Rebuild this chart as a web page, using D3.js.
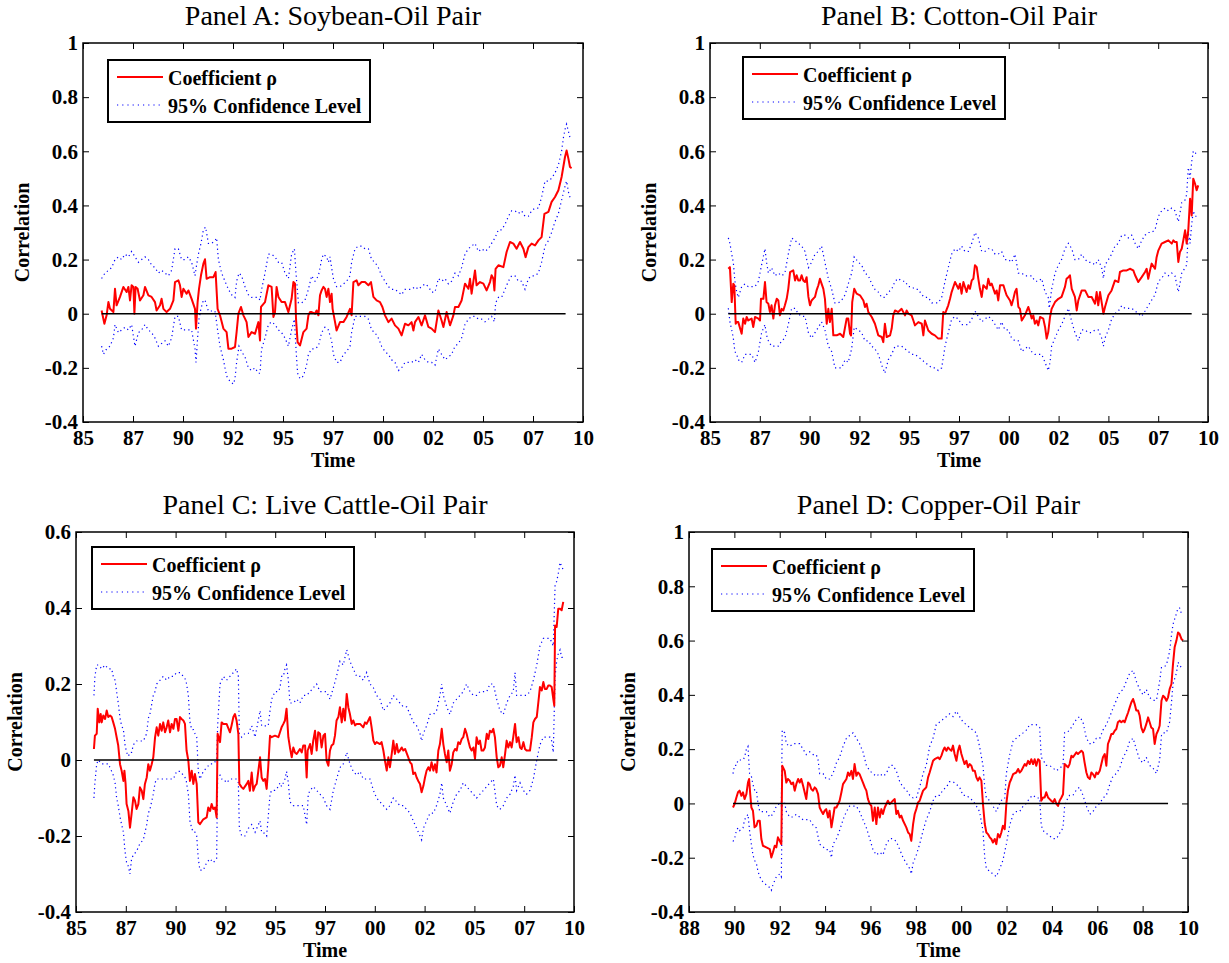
<!DOCTYPE html>
<html>
<head>
<meta charset="utf-8">
<script src="https://cdn.jsdelivr.net/npm/d3@7"></script>
<style>
  body { margin: 0; background: #fff; }
  text { font-family: "Liberation Serif", "Times New Roman", serif; }
</style>
</head>
<body>
<div id="chart"></div>
<script>
// ---- data: [year, value] pairs ----

// Panel A: Soybean-Oil
var aRho = [[1985.93,0.012],[1986.07,-0.037],[1986.18,-0.006],[1986.27,0.043],[1986.35,0.018],[1986.52,0.006],[1986.6,0.092],[1986.68,0.031],[1986.85,0.062],[1987.02,0.099],[1987.18,0.08],[1987.27,0.099],[1987.35,0.049],[1987.43,0.105],[1987.52,0.099],[1987.57,0],[1987.63,0.099],[1987.73,0.092],[1987.85,0.049],[1988.02,0.068],[1988.1,0.099],[1988.27,0.068],[1988.43,0.062],[1988.6,0.043],[1988.68,0.012],[1988.85,0.031],[1988.93,0.055],[1989.02,0.018],[1989.18,0.006],[1989.35,0.018],[1989.52,0.049],[1989.6,0.117],[1989.77,0.123],[1989.85,0.105],[1989.93,0.062],[1990.02,0.092],[1990.18,0.074],[1990.27,0.086],[1990.43,0.055],[1990.6,0.018],[1990.65,-0.055],[1990.73,0.043],[1990.8,0.092],[1990.9,0.142],[1991.02,0.185],[1991.1,0.201],[1991.18,0.129],[1991.35,0.135],[1991.52,0.135],[1991.63,0.154],[1991.73,0.018],[1991.85,-0.006],[1992.02,-0.055],[1992.18,-0.068],[1992.27,-0.129],[1992.43,-0.129],[1992.6,-0.123],[1992.68,-0.068],[1992.77,0],[1992.9,0.025],[1993.02,-0.006],[1993.1,-0.018],[1993.18,-0.031],[1993.27,-0.086],[1993.43,-0.068],[1993.6,-0.074],[1993.77,-0.031],[1993.85,-0.099],[1993.9,0.025],[1994.1,0.043],[1994.27,0.105],[1994.43,0.099],[1994.52,-0.012],[1994.6,0.006],[1994.68,0.099],[1994.77,0.062],[1994.93,0.043],[1995.1,0.043],[1995.27,0.006],[1995.43,0.055],[1995.52,0.117],[1995.6,0.111],[1995.65,-0.018],[1995.73,-0.105],[1995.85,-0.117],[1996.02,-0.068],[1996.18,-0.055],[1996.27,-0.006],[1996.35,0.006],[1996.43,0.006],[1996.6,0],[1996.68,0.012],[1996.77,-0.006],[1996.85,0.068],[1996.93,0.086],[1997.02,0.099],[1997.1,0.092],[1997.18,0.062],[1997.27,0.092],[1997.35,0.043],[1997.43,0.074],[1997.48,0.018],[1997.57,-0.018],[1997.68,-0.062],[1997.85,-0.031],[1998.02,-0.031],[1998.18,-0.012],[1998.35,0.018],[1998.43,-0.006],[1998.52,0.117],[1998.68,0.123],[1998.77,0.105],[1998.93,0.117],[1999.1,0.117],[1999.27,0.105],[1999.4,0.117],[1999.52,0.062],[1999.68,0.049],[1999.85,0.043],[1999.97,0.025],[2000.1,-0.006],[2000.27,-0.031],[2000.43,-0.018],[2000.6,-0.043],[2000.77,-0.055],[2000.93,-0.08],[2001.1,-0.037],[2001.27,-0.043],[2001.43,-0.031],[2001.52,-0.062],[2001.6,-0.031],[2001.77,-0.012],[2001.93,-0.043],[2002.1,-0.006],[2002.27,-0.049],[2002.43,-0.055],[2002.6,-0.068],[2002.77,0.012],[2002.93,-0.025],[2003.02,-0.049],[2003.18,0.006],[2003.35,-0.043],[2003.52,-0.006],[2003.6,0.025],[2003.77,0.025],[2003.93,0.049],[2004.1,0.111],[2004.27,0.092],[2004.35,0.129],[2004.43,0.074],[2004.6,0.16],[2004.68,0.105],[2004.85,0.117],[2005.02,0.111],[2005.18,0.086],[2005.35,0.117],[2005.43,0.142],[2005.52,0.129],[2005.57,0.086],[2005.63,0.166],[2005.77,0.179],[2006.02,0.172],[2006.18,0.228],[2006.35,0.265],[2006.52,0.259],[2006.68,0.24],[2006.85,0.265],[2007.02,0.24],[2007.13,0.209],[2007.27,0.246],[2007.43,0.259],[2007.6,0.252],[2007.77,0.271],[2007.93,0.283],[2008.07,0.369],[2008.27,0.376],[2008.43,0.413],[2008.6,0.431],[2008.77,0.456],[2008.93,0.505],[2009.1,0.579],[2009.18,0.603],[2009.27,0.573],[2009.35,0.542],[2009.43,0.538]];
var aUpper = [[1985.93,0.13],[1986.1,0.15],[1986.27,0.16],[1986.43,0.17],[1986.6,0.2],[1986.77,0.21],[1986.93,0.2],[1987.1,0.22],[1987.27,0.21],[1987.43,0.23],[1987.6,0.21],[1987.77,0.19],[1987.93,0.2],[1988.1,0.21],[1988.27,0.2],[1988.43,0.18],[1988.6,0.17],[1988.77,0.15],[1988.93,0.16],[1989.1,0.15],[1989.27,0.14],[1989.43,0.16],[1989.6,0.24],[1989.77,0.24],[1989.93,0.2],[1990.1,0.2],[1990.27,0.21],[1990.43,0.19],[1990.6,0.14],[1990.68,0.18],[1990.77,0.22],[1990.9,0.26],[1991.02,0.31],[1991.13,0.32],[1991.27,0.26],[1991.43,0.26],[1991.6,0.27],[1991.68,0.28],[1991.77,0.2],[1991.93,0.15],[1992.1,0.12],[1992.27,0.09],[1992.43,0.07],[1992.6,0.06],[1992.68,0.12],[1992.8,0.15],[1992.93,0.14],[1993.1,0.1],[1993.27,0.07],[1993.43,0.06],[1993.6,0.06],[1993.77,0.06],[1993.85,0.05],[1993.93,0.09],[1994.1,0.15],[1994.27,0.22],[1994.43,0.22],[1994.6,0.21],[1994.77,0.19],[1994.93,0.19],[1995.1,0.15],[1995.27,0.13],[1995.43,0.22],[1995.57,0.24],[1995.65,0.15],[1995.77,0.04],[1995.93,0.04],[1996.1,0.05],[1996.27,0.09],[1996.43,0.14],[1996.6,0.12],[1996.77,0.14],[1996.93,0.2],[1997.02,0.22],[1997.18,0.21],[1997.27,0.19],[1997.35,0.21],[1997.43,0.17],[1997.52,0.13],[1997.68,0.1],[1997.85,0.1],[1998.02,0.11],[1998.18,0.12],[1998.35,0.14],[1998.43,0.19],[1998.6,0.24],[1998.77,0.25],[1998.93,0.25],[1999.1,0.24],[1999.27,0.24],[1999.43,0.2],[1999.6,0.19],[1999.77,0.17],[1999.93,0.14],[2000.1,0.12],[2000.27,0.1],[2000.43,0.09],[2000.6,0.09],[2000.77,0.08],[2000.93,0.07],[2001.1,0.09],[2001.27,0.09],[2001.43,0.09],[2001.6,0.1],[2001.77,0.09],[2001.93,0.1],[2002.1,0.11],[2002.27,0.1],[2002.43,0.08],[2002.6,0.08],[2002.77,0.13],[2002.93,0.12],[2003.1,0.13],[2003.27,0.11],[2003.43,0.12],[2003.6,0.15],[2003.77,0.14],[2003.93,0.17],[2004.1,0.22],[2004.27,0.24],[2004.43,0.25],[2004.6,0.26],[2004.77,0.23],[2004.93,0.24],[2005.1,0.23],[2005.27,0.24],[2005.43,0.26],[2005.6,0.28],[2005.77,0.31],[2005.93,0.31],[2006.1,0.33],[2006.27,0.36],[2006.43,0.38],[2006.6,0.38],[2006.77,0.37],[2006.93,0.38],[2007.1,0.36],[2007.27,0.36],[2007.43,0.38],[2007.6,0.39],[2007.77,0.39],[2007.93,0.43],[2008.1,0.49],[2008.27,0.49],[2008.43,0.5],[2008.6,0.52],[2008.77,0.55],[2008.93,0.6],[2009.02,0.65],[2009.1,0.68],[2009.18,0.7],[2009.35,0.65]];
var aLower = [[1985.93,-0.12],[1986.02,-0.15],[1986.18,-0.13],[1986.35,-0.12],[1986.52,-0.09],[1986.6,-0.04],[1986.77,-0.07],[1986.93,-0.06],[1987.1,-0.05],[1987.27,-0.06],[1987.43,-0.04],[1987.6,-0.12],[1987.77,-0.07],[1987.93,-0.06],[1988.1,-0.04],[1988.27,-0.06],[1988.43,-0.07],[1988.6,-0.09],[1988.77,-0.12],[1988.93,-0.11],[1989.1,-0.1],[1989.27,-0.12],[1989.43,-0.09],[1989.6,-0.01],[1989.77,-0.01],[1989.93,-0.06],[1990.1,-0.06],[1990.27,-0.06],[1990.43,-0.06],[1990.6,-0.13],[1990.65,-0.18],[1990.73,-0.09],[1990.8,-0.02],[1990.9,0.02],[1991.02,0.05],[1991.1,0.05],[1991.27,0.01],[1991.43,0.01],[1991.6,0.01],[1991.73,-0.06],[1991.85,-0.12],[1992.02,-0.17],[1992.18,-0.23],[1992.35,-0.25],[1992.52,-0.26],[1992.6,-0.24],[1992.68,-0.18],[1992.8,-0.12],[1992.93,-0.14],[1993.1,-0.16],[1993.27,-0.2],[1993.43,-0.21],[1993.6,-0.2],[1993.77,-0.22],[1993.85,-0.22],[1993.93,-0.13],[1994.1,-0.09],[1994.27,-0.04],[1994.43,-0.03],[1994.6,-0.04],[1994.77,-0.06],[1994.93,-0.07],[1995.1,-0.09],[1995.27,-0.12],[1995.43,-0.06],[1995.57,-0.02],[1995.65,-0.13],[1995.73,-0.22],[1995.85,-0.24],[1996.02,-0.23],[1996.18,-0.19],[1996.27,-0.15],[1996.43,-0.13],[1996.6,-0.13],[1996.77,-0.12],[1996.93,-0.07],[1997.1,-0.05],[1997.27,-0.06],[1997.35,-0.08],[1997.43,-0.1],[1997.52,-0.15],[1997.68,-0.18],[1997.85,-0.18],[1998.02,-0.15],[1998.18,-0.14],[1998.35,-0.12],[1998.43,-0.07],[1998.6,-0.01],[1998.77,-0.01],[1998.93,-0.01],[1999.1,-0.01],[1999.27,-0.02],[1999.43,-0.06],[1999.6,-0.07],[1999.77,-0.09],[1999.93,-0.12],[2000.1,-0.14],[2000.27,-0.15],[2000.43,-0.17],[2000.6,-0.18],[2000.77,-0.21],[2000.93,-0.2],[2001.1,-0.18],[2001.27,-0.18],[2001.43,-0.18],[2001.6,-0.17],[2001.77,-0.18],[2001.93,-0.15],[2002.1,-0.17],[2002.27,-0.18],[2002.43,-0.18],[2002.6,-0.19],[2002.77,-0.13],[2002.93,-0.15],[2003.1,-0.17],[2003.27,-0.16],[2003.43,-0.15],[2003.6,-0.12],[2003.77,-0.11],[2003.93,-0.09],[2004.1,-0.04],[2004.27,-0.02],[2004.43,-0.01],[2004.6,-0.01],[2004.77,-0.02],[2004.93,-0.02],[2005.1,-0.03],[2005.27,-0.02],[2005.43,-0.01],[2005.57,-0.03],[2005.63,0.04],[2005.77,0.06],[2005.93,0.06],[2006.1,0.09],[2006.27,0.12],[2006.43,0.14],[2006.6,0.14],[2006.77,0.12],[2006.93,0.12],[2007.1,0.09],[2007.27,0.13],[2007.43,0.14],[2007.6,0.14],[2007.77,0.15],[2007.93,0.19],[2008.1,0.25],[2008.27,0.27],[2008.43,0.3],[2008.6,0.34],[2008.77,0.37],[2008.93,0.42],[2009.1,0.47],[2009.18,0.49],[2009.27,0.45],[2009.35,0.43]];
var aZero = [1985.93, 2009.13];

// Panel B: Cotton-Oil
var bRho = [[1985.92,0.166],[1986,0.172],[1986.09,0.043],[1986.17,0.111],[1986.22,0.105],[1986.29,-0.037],[1986.34,-0.031],[1986.42,-0.031],[1986.59,-0.074],[1986.67,-0.018],[1986.76,-0.037],[1986.84,-0.012],[1986.92,-0.025],[1987.09,-0.018],[1987.17,-0.049],[1987.26,-0.012],[1987.43,-0.018],[1987.51,-0.025],[1987.56,0.055],[1987.68,0.055],[1987.76,0.117],[1987.84,0.043],[1987.93,0.037],[1988.01,0.006],[1988.09,0.031],[1988.18,-0.018],[1988.26,0.031],[1988.35,0.055],[1988.43,0.049],[1988.51,-0.006],[1988.6,0.018],[1988.68,0.012],[1988.76,0.031],[1988.85,0.055],[1988.93,0.092],[1989.02,0.154],[1989.18,0.16],[1989.27,0.123],[1989.35,0.142],[1989.43,0.123],[1989.52,0.123],[1989.6,0.142],[1989.68,0.123],[1989.77,0.117],[1989.85,0.135],[1989.94,0.062],[1990.02,0.031],[1990.1,0.049],[1990.27,0.062],[1990.35,0.086],[1990.44,0.105],[1990.52,0.129],[1990.6,0.111],[1990.69,0.092],[1990.77,0.055],[1990.86,-0.037],[1990.94,0.018],[1991.02,-0.031],[1991.11,0.018],[1991.19,-0.08],[1991.36,-0.08],[1991.53,-0.074],[1991.69,-0.086],[1991.86,-0.018],[1991.94,-0.018],[1992.03,-0.074],[1992.08,-0.08],[1992.14,0.043],[1992.24,0.092],[1992.36,0.074],[1992.53,0.068],[1992.7,0.049],[1992.78,0.025],[1992.86,0.037],[1992.95,0.006],[1993.12,-0.012],[1993.28,-0.037],[1993.45,-0.08],[1993.62,-0.086],[1993.7,-0.105],[1993.78,-0.037],[1993.87,-0.086],[1994.04,-0.08],[1994.12,-0.055],[1994.2,-0.006],[1994.29,0.012],[1994.45,0.006],[1994.62,0.018],[1994.79,-0.006],[1994.87,0.012],[1994.96,0],[1995.12,-0.006],[1995.21,-0.025],[1995.29,-0.043],[1995.46,-0.031],[1995.63,-0.037],[1995.71,-0.08],[1995.79,-0.025],[1995.96,-0.062],[1996.13,-0.074],[1996.29,-0.08],[1996.46,-0.092],[1996.63,-0.092],[1996.71,0.006],[1996.8,0],[1996.96,0.031],[1997.05,0.055],[1997.13,0.08],[1997.3,0.117],[1997.47,0.092],[1997.55,0.111],[1997.63,0.074],[1997.72,0.117],[1997.88,0.08],[1997.97,0.105],[1998.05,0.092],[1998.14,0.123],[1998.22,0.129],[1998.3,0.179],[1998.39,0.172],[1998.47,0.129],[1998.55,0.092],[1998.64,0.062],[1998.72,0.105],[1998.89,0.092],[1998.97,0.129],[1999.06,0.105],[1999.14,0.111],[1999.31,0.074],[1999.39,0.086],[1999.47,0.049],[1999.56,0.105],[1999.73,0.105],[1999.81,0.086],[1999.89,0.068],[2000.06,0.049],[2000.14,0.031],[2000.23,0.055],[2000.31,0.08],[2000.39,0.092],[2000.48,0.025],[2000.56,0.018],[2000.65,-0.025],[2000.81,-0.006],[2000.98,0.025],[2001.06,0.006],[2001.15,-0.018],[2001.23,-0.006],[2001.31,-0.037],[2001.4,-0.025],[2001.48,-0.043],[2001.57,-0.012],[2001.73,-0.018],[2001.82,-0.049],[2001.9,-0.092],[2001.98,-0.068],[2002.07,-0.012],[2002.15,0.018],[2002.32,0.043],[2002.49,0.055],[2002.65,0.062],[2002.82,0.099],[2002.9,0.129],[2002.99,0.135],[2003.07,0.142],[2003.16,0.092],[2003.32,0.062],[2003.41,0.012],[2003.49,0.049],[2003.66,0.086],[2003.83,0.086],[2003.99,0.062],[2004.16,0.062],[2004.33,0.037],[2004.41,0.08],[2004.49,0.031],[2004.58,0.08],[2004.66,0.043],[2004.75,0],[2004.83,0.025],[2005,0.068],[2005.16,0.086],[2005.33,0.123],[2005.5,0.117],[2005.58,0.154],[2005.75,0.16],[2005.92,0.16],[2006.08,0.166],[2006.25,0.16],[2006.34,0.142],[2006.5,0.117],[2006.67,0.135],[2006.84,0.154],[2006.92,0.166],[2007,0.129],[2007.09,0.16],[2007.17,0.185],[2007.34,0.166],[2007.42,0.209],[2007.51,0.234],[2007.67,0.259],[2007.84,0.265],[2008.01,0.271],[2008.18,0.259],[2008.26,0.271],[2008.34,0.265],[2008.43,0.265],[2008.51,0.191],[2008.59,0.228],[2008.68,0.24],[2008.76,0.271],[2008.85,0.308],[2008.93,0.259],[2009.01,0.308],[2009.1,0.425],[2009.18,0.363],[2009.26,0.499],[2009.35,0.48],[2009.43,0.456],[2009.51,0.474]];
var bUpper = [[1985.92,0.28],[1986,0.26],[1986.09,0.22],[1986.17,0.19],[1986.25,0.12],[1986.34,0.08],[1986.42,0.06],[1986.59,0.1],[1986.76,0.11],[1986.92,0.1],[1987.09,0.1],[1987.26,0.1],[1987.43,0.12],[1987.59,0.18],[1987.76,0.24],[1987.84,0.19],[1987.93,0.15],[1988.09,0.17],[1988.26,0.14],[1988.43,0.15],[1988.6,0.14],[1988.76,0.15],[1988.93,0.22],[1989.1,0.28],[1989.27,0.27],[1989.43,0.26],[1989.6,0.25],[1989.77,0.23],[1989.94,0.17],[1990.1,0.19],[1990.27,0.22],[1990.44,0.23],[1990.6,0.25],[1990.77,0.19],[1990.94,0.13],[1991.11,0.09],[1991.27,0.04],[1991.44,0.04],[1991.61,0.05],[1991.78,0.07],[1991.94,0.11],[1992.11,0.15],[1992.24,0.21],[1992.45,0.19],[1992.61,0.18],[1992.78,0.15],[1992.95,0.14],[1993.12,0.11],[1993.28,0.09],[1993.45,0.08],[1993.62,0.06],[1993.78,0.06],[1993.95,0.08],[1994.12,0.09],[1994.29,0.12],[1994.45,0.13],[1994.62,0.12],[1994.79,0.12],[1994.96,0.1],[1995.12,0.1],[1995.29,0.09],[1995.46,0.09],[1995.63,0.07],[1995.79,0.06],[1995.96,0.06],[1996.13,0.04],[1996.29,0.04],[1996.46,0.04],[1996.63,0.06],[1996.8,0.12],[1996.96,0.17],[1997.13,0.22],[1997.3,0.24],[1997.47,0.23],[1997.63,0.25],[1997.8,0.23],[1997.97,0.23],[1998.14,0.26],[1998.3,0.3],[1998.47,0.28],[1998.64,0.23],[1998.8,0.23],[1998.97,0.24],[1999.14,0.24],[1999.31,0.22],[1999.47,0.22],[1999.64,0.23],[1999.81,0.2],[1999.98,0.2],[2000.14,0.19],[2000.31,0.22],[2000.48,0.15],[2000.65,0.15],[2000.81,0.14],[2000.98,0.14],[2001.15,0.14],[2001.31,0.12],[2001.48,0.12],[2001.65,0.13],[2001.82,0.08],[2001.98,0.06],[2002.03,0.02],[2002.15,0.09],[2002.32,0.15],[2002.49,0.18],[2002.65,0.2],[2002.82,0.24],[2002.99,0.26],[2003.16,0.24],[2003.32,0.2],[2003.49,0.2],[2003.66,0.22],[2003.83,0.2],[2003.99,0.19],[2004.16,0.19],[2004.33,0.18],[2004.49,0.2],[2004.66,0.17],[2004.75,0.13],[2004.83,0.18],[2005,0.2],[2005.16,0.22],[2005.33,0.25],[2005.5,0.26],[2005.67,0.29],[2005.83,0.29],[2006,0.28],[2006.17,0.29],[2006.34,0.26],[2006.5,0.24],[2006.67,0.27],[2006.84,0.29],[2007,0.3],[2007.17,0.3],[2007.34,0.31],[2007.51,0.36],[2007.67,0.38],[2007.84,0.39],[2008.01,0.38],[2008.18,0.39],[2008.34,0.38],[2008.51,0.34],[2008.59,0.37],[2008.68,0.41],[2008.85,0.42],[2008.93,0.44],[2009.01,0.54],[2009.1,0.5],[2009.18,0.56],[2009.26,0.6],[2009.35,0.6],[2009.43,0.58]];
var bLower = [[1985.92,0.02],[1986,-0.03],[1986.09,-0.06],[1986.17,-0.09],[1986.25,-0.14],[1986.34,-0.15],[1986.42,-0.17],[1986.59,-0.18],[1986.76,-0.15],[1986.92,-0.15],[1987.09,-0.15],[1987.26,-0.18],[1987.43,-0.14],[1987.59,-0.07],[1987.76,-0.04],[1987.84,-0.08],[1987.93,-0.1],[1988.09,-0.12],[1988.26,-0.12],[1988.43,-0.12],[1988.6,-0.1],[1988.76,-0.09],[1988.93,-0.04],[1989.1,0.02],[1989.27,0.02],[1989.43,0],[1989.6,-0.01],[1989.77,-0.01],[1989.94,-0.07],[1990.1,-0.09],[1990.27,-0.07],[1990.44,-0.05],[1990.6,-0.03],[1990.77,-0.06],[1990.94,-0.12],[1991.11,-0.14],[1991.27,-0.2],[1991.44,-0.2],[1991.61,-0.2],[1991.78,-0.17],[1991.94,-0.18],[1992.11,-0.13],[1992.24,-0.05],[1992.45,-0.06],[1992.61,-0.07],[1992.78,-0.1],[1992.95,-0.1],[1993.12,-0.12],[1993.28,-0.13],[1993.45,-0.15],[1993.62,-0.19],[1993.78,-0.22],[1993.95,-0.17],[1994.12,-0.15],[1994.29,-0.12],[1994.45,-0.12],[1994.62,-0.12],[1994.79,-0.13],[1994.96,-0.14],[1995.12,-0.15],[1995.29,-0.15],[1995.46,-0.16],[1995.63,-0.17],[1995.79,-0.18],[1995.96,-0.19],[1996.13,-0.2],[1996.29,-0.2],[1996.46,-0.21],[1996.63,-0.2],[1996.8,-0.12],[1996.96,-0.07],[1997.13,-0.02],[1997.3,-0.01],[1997.47,-0.02],[1997.63,-0.04],[1997.8,-0.04],[1997.97,-0.04],[1998.14,-0.02],[1998.3,0.01],[1998.47,-0.01],[1998.64,-0.03],[1998.8,-0.02],[1998.97,-0.01],[1999.14,-0.02],[1999.31,-0.04],[1999.47,-0.06],[1999.64,-0.03],[1999.81,-0.06],[1999.98,-0.06],[2000.14,-0.09],[2000.31,-0.1],[2000.48,-0.1],[2000.65,-0.14],[2000.81,-0.13],[2000.98,-0.12],[2001.15,-0.14],[2001.31,-0.15],[2001.48,-0.15],[2001.65,-0.15],[2001.82,-0.18],[2001.98,-0.21],[2002.07,-0.18],[2002.15,-0.12],[2002.32,-0.09],[2002.49,-0.06],[2002.65,-0.04],[2002.82,-0.01],[2002.99,0.02],[2003.16,-0.03],[2003.32,-0.07],[2003.49,-0.1],[2003.66,-0.06],[2003.83,-0.06],[2003.99,-0.07],[2004.16,-0.07],[2004.33,-0.06],[2004.49,-0.06],[2004.66,-0.09],[2004.75,-0.12],[2004.83,-0.09],[2005,-0.06],[2005.16,-0.02],[2005.33,0],[2005.5,0.01],[2005.67,0.03],[2005.83,0.02],[2006,0.02],[2006.17,0.02],[2006.34,0.01],[2006.5,0],[2006.67,-0.01],[2006.84,0.01],[2007,0.03],[2007.17,0.05],[2007.34,0.07],[2007.51,0.12],[2007.67,0.13],[2007.84,0.15],[2008.01,0.14],[2008.18,0.15],[2008.34,0.14],[2008.51,0.08],[2008.59,0.11],[2008.68,0.15],[2008.85,0.17],[2008.93,0.18],[2009.01,0.3],[2009.1,0.26],[2009.18,0.33],[2009.26,0.38],[2009.35,0.36],[2009.43,0.36]];
var bZero = [1985.92, 2009.18];

// Panel C: Live Cattle-Oil
var cRho = [[1985.9,0.029],[1985.95,0.064],[1986.04,0.069],[1986.09,0.135],[1986.17,0.099],[1986.24,0.121],[1986.29,0.099],[1986.37,0.117],[1986.46,0.108],[1986.54,0.13],[1986.62,0.113],[1986.71,0.117],[1986.79,0.113],[1986.87,0.099],[1986.96,0.082],[1987.04,0.06],[1987.12,0.038],[1987.21,-0.011],[1987.29,-0.028],[1987.38,-0.055],[1987.43,-0.028],[1987.49,-0.063],[1987.54,-0.116],[1987.63,-0.134],[1987.71,-0.178],[1987.79,-0.142],[1987.88,-0.098],[1987.96,-0.107],[1988.04,-0.129],[1988.13,-0.116],[1988.21,-0.072],[1988.3,-0.081],[1988.38,-0.103],[1988.46,-0.063],[1988.55,-0.046],[1988.63,-0.011],[1988.71,-0.028],[1988.8,-0.011],[1988.88,0.007],[1988.97,0.06],[1989.05,0.086],[1989.13,0.064],[1989.22,0.095],[1989.3,0.077],[1989.38,0.099],[1989.47,0.073],[1989.55,0.086],[1989.63,0.104],[1989.72,0.073],[1989.8,0.095],[1989.89,0.082],[1989.97,0.108],[1990.05,0.108],[1990.14,0.077],[1990.22,0.113],[1990.3,0.108],[1990.39,0.104],[1990.47,0.095],[1990.55,0.025],[1990.64,-0.002],[1990.72,-0.055],[1990.81,-0.028],[1990.89,-0.063],[1990.97,-0.037],[1991.06,-0.063],[1991.14,-0.164],[1991.22,-0.169],[1991.39,-0.156],[1991.56,-0.151],[1991.64,-0.125],[1991.73,-0.134],[1991.81,-0.116],[1991.89,-0.129],[1991.98,-0.125],[1992.06,-0.151],[1992.11,0.069],[1992.23,0.047],[1992.31,0.099],[1992.4,0.095],[1992.56,0.095],[1992.73,0.073],[1992.81,0.091],[1992.9,0.113],[1992.98,0.121],[1993.06,0.104],[1993.15,0.069],[1993.2,-0.063],[1993.32,-0.072],[1993.4,-0.076],[1993.57,-0.063],[1993.65,-0.055],[1993.73,-0.081],[1993.82,-0.033],[1993.9,-0.081],[1993.99,-0.068],[1994.07,-0.063],[1994.24,0.007],[1994.32,-0.046],[1994.4,-0.055],[1994.49,-0.05],[1994.57,-0.076],[1994.65,-0.019],[1994.74,0.064],[1994.82,0.06],[1994.99,0.064],[1995.16,0.06],[1995.24,0.073],[1995.32,0.086],[1995.41,0.095],[1995.49,0.104],[1995.57,0.135],[1995.66,0.06],[1995.74,0.033],[1995.83,0.007],[1995.91,0.033],[1995.99,0.02],[1996.08,0.016],[1996.24,0.029],[1996.33,0.02],[1996.41,0.038],[1996.5,0.038],[1996.58,-0.046],[1996.63,0.025],[1996.75,0.042],[1996.83,0.016],[1996.91,0.051],[1997,0.077],[1997.08,0.025],[1997.16,0.073],[1997.25,0.069],[1997.33,0.033],[1997.42,0.064],[1997.5,0.069],[1997.58,-0.002],[1997.67,-0.015],[1997.75,0.025],[1997.83,0.038],[1997.92,0.042],[1998,0.064],[1998.08,0.104],[1998.17,0.113],[1998.25,0.139],[1998.34,0.099],[1998.42,0.135],[1998.5,0.104],[1998.59,0.174],[1998.67,0.139],[1998.75,0.121],[1998.84,0.095],[1998.92,0.104],[1999.01,0.091],[1999.09,0.095],[1999.26,0.095],[1999.42,0.086],[1999.51,0.099],[1999.59,0.095],[1999.76,0.113],[1999.84,0.086],[1999.93,0.051],[2000.01,0.042],[2000.09,0.047],[2000.26,0.042],[2000.34,0.047],[2000.43,0.025],[2000.51,-0.002],[2000.6,-0.028],[2000.68,0.007],[2000.76,-0.019],[2000.85,0.016],[2000.93,0.051],[2001.01,0.016],[2001.1,0.042],[2001.18,0.02],[2001.26,0.025],[2001.35,0.033],[2001.43,0.025],[2001.52,0.029],[2001.68,0.007],[2001.77,-0.006],[2001.85,-0.011],[2001.93,-0.037],[2002.02,-0.033],[2002.1,-0.046],[2002.18,-0.055],[2002.27,-0.063],[2002.35,-0.085],[2002.44,-0.068],[2002.52,-0.046],[2002.6,-0.028],[2002.69,-0.019],[2002.77,-0.028],[2002.85,-0.006],[2002.94,-0.028],[2003.02,-0.011],[2003.1,-0.033],[2003.19,0.025],[2003.27,0.042],[2003.36,0.082],[2003.44,0.042],[2003.52,0.016],[2003.61,-0.006],[2003.69,0.025],[2003.77,-0.028],[2003.86,-0.011],[2003.94,0.02],[2004.03,0.029],[2004.11,0.025],[2004.19,0.047],[2004.28,0.042],[2004.36,0.055],[2004.44,0.06],[2004.53,0.082],[2004.61,0.069],[2004.69,0.051],[2004.78,0.033],[2004.86,0.025],[2004.95,0.033],[2005.03,0.003],[2005.11,0.06],[2005.2,0.042],[2005.28,0.051],[2005.36,0.025],[2005.45,0.025],[2005.53,0.033],[2005.62,0.069],[2005.7,0.055],[2005.78,0.077],[2005.87,0.073],[2005.95,0.082],[2006.03,0.06],[2006.12,0.007],[2006.2,-0.019],[2006.28,-0.015],[2006.37,0.007],[2006.45,-0.019],[2006.54,0.016],[2006.62,0.051],[2006.7,0.033],[2006.79,0.047],[2006.87,0.033],[2006.95,0.06],[2007.04,0.095],[2007.12,0.047],[2007.21,0.06],[2007.29,0.033],[2007.37,0.029],[2007.46,0.047],[2007.54,0.029],[2007.62,0.025],[2007.79,0.025],[2007.88,0.06],[2007.96,0.099],[2008.04,0.108],[2008.13,0.113],[2008.21,0.152],[2008.29,0.192],[2008.38,0.183],[2008.46,0.205],[2008.54,0.187],[2008.63,0.187],[2008.71,0.196],[2008.79,0.196],[2008.88,0.192],[2008.96,0.161],[2009.01,0.143],[2009.05,0.354],[2009.13,0.35],[2009.21,0.398],[2009.3,0.398],[2009.38,0.394],[2009.46,0.416]];
var cUpper = [[1985.9,0.17],[1985.95,0.22],[1986.04,0.25],[1986.12,0.25],[1986.29,0.24],[1986.46,0.25],[1986.62,0.24],[1986.79,0.24],[1986.87,0.22],[1986.96,0.21],[1987.04,0.18],[1987.12,0.15],[1987.21,0.11],[1987.29,0.09],[1987.38,0.08],[1987.46,0.04],[1987.54,0.02],[1987.63,0.01],[1987.71,0.02],[1987.79,0.02],[1987.88,0.04],[1988.04,0.05],[1988.21,0.05],[1988.38,0.05],[1988.55,0.07],[1988.63,0.11],[1988.71,0.12],[1988.88,0.17],[1988.97,0.18],[1989.05,0.2],[1989.22,0.21],[1989.38,0.22],[1989.55,0.21],[1989.72,0.22],[1989.89,0.22],[1990.05,0.23],[1990.22,0.23],[1990.39,0.22],[1990.52,0.21],[1990.64,0.17],[1990.72,0.1],[1990.81,0.08],[1990.89,0.08],[1990.97,0.07],[1991.06,0.06],[1991.14,-0.03],[1991.22,-0.05],[1991.39,-0.03],[1991.56,-0.02],[1991.73,-0.01],[1991.89,-0.01],[1992.06,0],[1992.11,0.09],[1992.23,0.2],[1992.31,0.21],[1992.4,0.22],[1992.56,0.21],[1992.73,0.22],[1992.9,0.23],[1993.06,0.24],[1993.15,0.22],[1993.2,0.07],[1993.32,0.06],[1993.48,0.07],[1993.65,0.07],[1993.82,0.09],[1993.99,0.06],[1994.24,0.13],[1994.32,0.09],[1994.4,0.09],[1994.57,0.09],[1994.65,0.09],[1994.74,0.13],[1994.82,0.16],[1994.99,0.18],[1995.16,0.18],[1995.24,0.19],[1995.32,0.22],[1995.41,0.22],[1995.49,0.24],[1995.57,0.25],[1995.66,0.21],[1995.74,0.15],[1995.91,0.15],[1996.08,0.16],[1996.24,0.15],[1996.41,0.17],[1996.58,0.17],[1996.75,0.18],[1996.91,0.19],[1997.08,0.2],[1997.25,0.18],[1997.42,0.18],[1997.58,0.18],[1997.75,0.16],[1997.92,0.19],[1998.08,0.22],[1998.25,0.26],[1998.42,0.25],[1998.59,0.29],[1998.75,0.26],[1998.92,0.24],[1999.09,0.22],[1999.26,0.22],[1999.42,0.21],[1999.59,0.23],[1999.76,0.2],[1999.93,0.19],[2000.09,0.17],[2000.26,0.16],[2000.43,0.13],[2000.6,0.14],[2000.76,0.15],[2000.93,0.17],[2001.1,0.16],[2001.26,0.15],[2001.43,0.14],[2001.6,0.14],[2001.77,0.12],[2001.93,0.1],[2002.1,0.09],[2002.27,0.07],[2002.35,0.05],[2002.44,0.07],[2002.6,0.09],[2002.77,0.12],[2002.94,0.12],[2003.1,0.13],[2003.27,0.17],[2003.36,0.2],[2003.44,0.17],[2003.61,0.14],[2003.77,0.12],[2003.94,0.15],[2004.11,0.16],[2004.28,0.17],[2004.44,0.18],[2004.61,0.2],[2004.78,0.18],[2004.95,0.17],[2005.11,0.17],[2005.28,0.18],[2005.45,0.18],[2005.62,0.18],[2005.78,0.2],[2005.95,0.2],[2006.12,0.16],[2006.28,0.13],[2006.45,0.12],[2006.62,0.15],[2006.79,0.17],[2006.95,0.18],[2007.04,0.23],[2007.12,0.17],[2007.29,0.17],[2007.46,0.17],[2007.62,0.17],[2007.79,0.18],[2007.96,0.21],[2008.13,0.25],[2008.29,0.3],[2008.46,0.32],[2008.63,0.32],[2008.79,0.32],[2008.88,0.31],[2008.96,0.3],[2009.05,0.46],[2009.13,0.47],[2009.21,0.49],[2009.3,0.52],[2009.38,0.51],[2009.46,0.5]];
var cLower = [[1985.9,-0.1],[1985.95,-0.06],[1986.04,-0.01],[1986.12,0],[1986.29,-0.01],[1986.46,-0.01],[1986.62,-0.01],[1986.79,-0.03],[1986.87,-0.04],[1986.96,-0.06],[1987.04,-0.1],[1987.12,-0.12],[1987.21,-0.15],[1987.29,-0.17],[1987.38,-0.19],[1987.46,-0.24],[1987.54,-0.27],[1987.63,-0.28],[1987.71,-0.3],[1987.79,-0.26],[1987.88,-0.25],[1988.04,-0.24],[1988.21,-0.22],[1988.38,-0.21],[1988.55,-0.17],[1988.63,-0.14],[1988.71,-0.13],[1988.88,-0.09],[1988.97,-0.06],[1989.05,-0.05],[1989.22,-0.05],[1989.38,-0.05],[1989.55,-0.05],[1989.72,-0.05],[1989.89,-0.05],[1990.05,-0.03],[1990.22,-0.03],[1990.39,-0.04],[1990.52,-0.05],[1990.64,-0.09],[1990.72,-0.16],[1990.81,-0.18],[1990.89,-0.19],[1990.97,-0.19],[1991.06,-0.2],[1991.14,-0.26],[1991.22,-0.29],[1991.39,-0.29],[1991.56,-0.27],[1991.73,-0.26],[1991.89,-0.27],[1992.06,-0.26],[1992.11,-0.05],[1992.23,-0.04],[1992.31,-0.05],[1992.4,-0.05],[1992.56,-0.06],[1992.73,-0.05],[1992.9,-0.05],[1993.06,-0.05],[1993.15,-0.06],[1993.2,-0.18],[1993.32,-0.2],[1993.48,-0.2],[1993.65,-0.18],[1993.82,-0.17],[1993.99,-0.19],[1994.24,-0.16],[1994.32,-0.19],[1994.4,-0.19],[1994.57,-0.2],[1994.65,-0.15],[1994.74,-0.09],[1994.82,-0.08],[1994.99,-0.08],[1995.16,-0.07],[1995.24,-0.06],[1995.32,-0.07],[1995.41,-0.06],[1995.49,-0.05],[1995.57,-0.03],[1995.66,-0.06],[1995.74,-0.11],[1995.91,-0.12],[1996.08,-0.12],[1996.24,-0.12],[1996.41,-0.12],[1996.58,-0.17],[1996.66,-0.09],[1996.75,-0.08],[1996.91,-0.07],[1997.08,-0.08],[1997.25,-0.09],[1997.42,-0.1],[1997.58,-0.12],[1997.75,-0.13],[1997.92,-0.08],[1998.08,-0.05],[1998.25,-0.02],[1998.42,-0.01],[1998.59,0.02],[1998.75,-0.01],[1998.92,-0.03],[1999.09,-0.04],[1999.26,-0.03],[1999.42,-0.05],[1999.59,-0.05],[1999.76,-0.05],[1999.93,-0.08],[2000.09,-0.1],[2000.26,-0.11],[2000.43,-0.12],[2000.6,-0.13],[2000.76,-0.12],[2000.93,-0.1],[2001.1,-0.11],[2001.26,-0.12],[2001.43,-0.12],[2001.6,-0.13],[2001.77,-0.14],[2001.93,-0.16],[2002.1,-0.18],[2002.27,-0.2],[2002.35,-0.21],[2002.44,-0.18],[2002.6,-0.16],[2002.77,-0.14],[2002.94,-0.14],[2003.1,-0.12],[2003.27,-0.09],[2003.36,-0.06],[2003.44,-0.1],[2003.61,-0.12],[2003.77,-0.14],[2003.94,-0.11],[2004.11,-0.09],[2004.28,-0.08],[2004.44,-0.06],[2004.61,-0.07],[2004.78,-0.08],[2004.95,-0.09],[2005.11,-0.1],[2005.28,-0.09],[2005.45,-0.08],[2005.62,-0.07],[2005.78,-0.06],[2005.95,-0.05],[2006.12,-0.12],[2006.28,-0.13],[2006.45,-0.12],[2006.62,-0.1],[2006.79,-0.09],[2006.95,-0.07],[2007.04,-0.04],[2007.12,-0.08],[2007.29,-0.06],[2007.46,-0.08],[2007.62,-0.09],[2007.79,-0.08],[2007.96,-0.05],[2008.13,0],[2008.29,0.04],[2008.46,0.06],[2008.63,0.06],[2008.79,0.06],[2008.88,0.05],[2008.96,0.02],[2009.05,0.22],[2009.13,0.26],[2009.21,0.28],[2009.3,0.29],[2009.38,0.27],[2009.46,0.27]];
var cZero = [1985.9, 2009.16];

// Panel D: Copper-Oil
var dRho = [[1989.94,-0.015],[1990.01,-0.002],[1990.09,0.022],[1990.16,0.041],[1990.23,0.047],[1990.31,0.028],[1990.38,0.041],[1990.45,0.016],[1990.53,0.034],[1990.6,0.077],[1990.65,0.09],[1990.7,0.034],[1990.75,-0.015],[1990.82,-0.027],[1990.89,-0.088],[1990.97,-0.082],[1991.04,-0.064],[1991.12,-0.064],[1991.19,-0.131],[1991.26,-0.156],[1991.41,-0.162],[1991.56,-0.168],[1991.63,-0.199],[1991.7,-0.181],[1991.78,-0.156],[1991.85,-0.162],[1991.92,-0.125],[1992,-0.138],[1992.07,-0.15],[1992.11,0.139],[1992.22,0.12],[1992.29,0.077],[1992.36,0.09],[1992.44,0.084],[1992.51,0.071],[1992.59,0.077],[1992.66,0.047],[1992.73,0.071],[1992.81,0.09],[1992.88,0.077],[1992.95,0.09],[1993.03,0.065],[1993.17,0.016],[1993.25,0.077],[1993.32,0.071],[1993.39,0.053],[1993.47,0.047],[1993.54,0.059],[1993.61,0.053],[1993.69,0.034],[1993.76,-0.015],[1993.83,-0.027],[1993.91,-0.039],[1993.98,-0.027],[1994.05,-0.021],[1994.13,-0.052],[1994.2,-0.027],[1994.28,-0.088],[1994.35,-0.052],[1994.42,-0.015],[1994.5,-0.015],[1994.64,0.01],[1994.72,0.041],[1994.79,0.071],[1994.94,0.09],[1995.01,0.114],[1995.08,0.102],[1995.16,0.12],[1995.23,0.09],[1995.3,0.145],[1995.38,0.102],[1995.45,0.114],[1995.52,0.108],[1995.67,0.077],[1995.75,0.059],[1995.82,0.047],[1995.89,0.016],[1995.97,-0.002],[1996.04,-0.009],[1996.11,-0.064],[1996.19,-0.015],[1996.26,-0.076],[1996.33,-0.015],[1996.41,-0.052],[1996.48,-0.021],[1996.55,-0.039],[1996.63,-0.015],[1996.7,-0.002],[1996.77,0.01],[1996.85,-0.002],[1996.92,0.004],[1996.99,0.01],[1997.07,0.016],[1997.14,-0.039],[1997.21,-0.027],[1997.29,-0.052],[1997.36,-0.045],[1997.44,-0.064],[1997.58,-0.088],[1997.66,-0.107],[1997.73,-0.113],[1997.8,-0.138],[1997.88,-0.076],[1997.95,-0.039],[1998.02,-0.021],[1998.1,0.004],[1998.17,0.01],[1998.24,0.028],[1998.32,0.047],[1998.39,0.053],[1998.46,0.059],[1998.54,0.096],[1998.61,0.114],[1998.76,0.157],[1998.83,0.163],[1998.98,0.17],[1999.05,0.163],[1999.13,0.176],[1999.2,0.194],[1999.27,0.206],[1999.35,0.194],[1999.42,0.206],[1999.49,0.2],[1999.57,0.194],[1999.64,0.213],[1999.71,0.182],[1999.79,0.157],[1999.86,0.194],[1999.93,0.213],[2000.01,0.182],[2000.08,0.163],[2000.15,0.145],[2000.23,0.157],[2000.3,0.133],[2000.37,0.145],[2000.45,0.139],[2000.52,0.12],[2000.6,0.12],[2000.67,0.096],[2000.74,0.084],[2000.81,0.096],[2000.89,0.084],[2000.96,-0.002],[2001.04,-0.076],[2001.11,-0.107],[2001.18,-0.113],[2001.26,-0.125],[2001.33,-0.131],[2001.4,-0.144],[2001.48,-0.131],[2001.55,-0.15],[2001.62,-0.113],[2001.7,-0.125],[2001.77,-0.107],[2001.84,-0.082],[2001.92,-0.095],[2001.99,-0.002],[2002.06,0.047],[2002.14,0.077],[2002.21,0.09],[2002.29,0.108],[2002.43,0.114],[2002.51,0.127],[2002.58,0.114],[2002.65,0.12],[2002.73,0.133],[2002.8,0.145],[2002.87,0.139],[2002.95,0.157],[2003.02,0.145],[2003.09,0.163],[2003.17,0.145],[2003.24,0.163],[2003.31,0.139],[2003.39,0.163],[2003.46,0.157],[2003.53,0.01],[2003.61,0.022],[2003.68,0.022],[2003.75,0.041],[2003.83,0.022],[2003.9,0.016],[2003.97,0.01],[2004.05,0.004],[2004.12,0.016],[2004.2,-0.002],[2004.27,-0.009],[2004.34,0.01],[2004.42,0.022],[2004.49,0.034],[2004.56,0.145],[2004.64,0.139],[2004.71,0.133],[2004.78,0.145],[2004.86,0.176],[2004.93,0.17],[2005.08,0.188],[2005.15,0.182],[2005.22,0.188],[2005.3,0.194],[2005.37,0.188],[2005.44,0.151],[2005.52,0.114],[2005.59,0.096],[2005.67,0.09],[2005.74,0.114],[2005.81,0.108],[2005.89,0.096],[2005.96,0.114],[2006.03,0.108],[2006.11,0.12],[2006.18,0.145],[2006.25,0.17],[2006.33,0.182],[2006.4,0.139],[2006.47,0.219],[2006.55,0.237],[2006.62,0.256],[2006.69,0.256],[2006.77,0.268],[2006.84,0.274],[2006.91,0.299],[2006.99,0.305],[2007.06,0.299],[2007.14,0.305],[2007.21,0.299],[2007.28,0.317],[2007.36,0.335],[2007.43,0.354],[2007.5,0.372],[2007.58,0.385],[2007.65,0.366],[2007.72,0.342],[2007.8,0.342],[2007.87,0.323],[2007.94,0.28],[2008.02,0.262],[2008.09,0.274],[2008.16,0.292],[2008.24,0.317],[2008.31,0.299],[2008.38,0.28],[2008.46,0.274],[2008.53,0.219],[2008.61,0.256],[2008.68,0.268],[2008.75,0.286],[2008.83,0.378],[2008.9,0.397],[2008.97,0.391],[2009.05,0.378],[2009.12,0.391],[2009.19,0.421],[2009.27,0.44],[2009.34,0.514],[2009.41,0.575],[2009.49,0.6],[2009.56,0.63],[2009.63,0.624],[2009.71,0.606],[2009.78,0.6]];
var dUpper = [[1989.94,0.11],[1990.01,0.14],[1990.09,0.14],[1990.16,0.16],[1990.23,0.16],[1990.38,0.16],[1990.45,0.17],[1990.53,0.2],[1990.6,0.21],[1990.67,0.11],[1990.75,0.1],[1990.82,0.07],[1990.89,0.05],[1990.97,0.05],[1991.04,0],[1991.12,-0.03],[1991.26,-0.03],[1991.41,-0.03],[1991.56,-0.05],[1991.7,-0.04],[1991.85,-0.01],[1992,0],[1992.07,-0.01],[1992.11,0.27],[1992.22,0.26],[1992.29,0.22],[1992.44,0.21],[1992.59,0.22],[1992.73,0.22],[1992.88,0.22],[1993.03,0.2],[1993.17,0.18],[1993.32,0.19],[1993.47,0.18],[1993.61,0.18],[1993.69,0.16],[1993.76,0.11],[1993.91,0.11],[1994.05,0.09],[1994.2,0.09],[1994.35,0.11],[1994.5,0.15],[1994.64,0.17],[1994.79,0.21],[1994.94,0.24],[1995.08,0.25],[1995.23,0.26],[1995.38,0.24],[1995.52,0.22],[1995.67,0.19],[1995.82,0.14],[1995.97,0.12],[1996.11,0.11],[1996.26,0.1],[1996.41,0.11],[1996.55,0.1],[1996.7,0.11],[1996.85,0.14],[1996.99,0.14],[1997.14,0.12],[1997.29,0.08],[1997.44,0.06],[1997.58,0.05],[1997.73,0.03],[1997.88,0.02],[1998.02,0.02],[1998.17,0.06],[1998.32,0.11],[1998.46,0.14],[1998.61,0.21],[1998.76,0.24],[1998.9,0.29],[1999.05,0.3],[1999.2,0.31],[1999.35,0.32],[1999.49,0.33],[1999.64,0.32],[1999.79,0.34],[1999.93,0.32],[2000.08,0.3],[2000.23,0.29],[2000.37,0.28],[2000.52,0.27],[2000.67,0.26],[2000.81,0.21],[2000.96,0.14],[2001.04,0.06],[2001.11,0.02],[2001.26,0.01],[2001.4,-0.01],[2001.55,-0.03],[2001.7,0],[2001.84,0.02],[2001.92,0.02],[2001.99,0.11],[2002.14,0.18],[2002.29,0.23],[2002.43,0.24],[2002.58,0.25],[2002.73,0.26],[2002.87,0.27],[2003.02,0.29],[2003.17,0.29],[2003.31,0.29],[2003.46,0.28],[2003.53,0.17],[2003.61,0.16],[2003.75,0.14],[2003.9,0.14],[2004.05,0.13],[2004.2,0.12],[2004.34,0.13],[2004.49,0.14],[2004.56,0.26],[2004.64,0.26],[2004.78,0.27],[2004.93,0.29],[2005.08,0.31],[2005.22,0.32],[2005.37,0.3],[2005.52,0.24],[2005.67,0.22],[2005.81,0.22],[2005.96,0.24],[2006.11,0.24],[2006.25,0.27],[2006.4,0.29],[2006.55,0.32],[2006.69,0.35],[2006.84,0.38],[2006.99,0.41],[2007.14,0.42],[2007.28,0.45],[2007.43,0.48],[2007.58,0.49],[2007.72,0.45],[2007.87,0.42],[2008.02,0.4],[2008.16,0.42],[2008.31,0.39],[2008.46,0.38],[2008.61,0.38],[2008.75,0.45],[2008.83,0.5],[2008.9,0.5],[2009.05,0.51],[2009.19,0.56],[2009.27,0.62],[2009.34,0.66],[2009.49,0.7],[2009.56,0.72],[2009.63,0.72],[2009.71,0.7]];
var dLower = [[1989.94,-0.14],[1990.01,-0.13],[1990.09,-0.1],[1990.16,-0.09],[1990.23,-0.1],[1990.38,-0.09],[1990.45,-0.06],[1990.53,-0.05],[1990.6,-0.04],[1990.67,-0.1],[1990.75,-0.15],[1990.82,-0.19],[1990.89,-0.21],[1990.97,-0.22],[1991.04,-0.25],[1991.12,-0.27],[1991.26,-0.29],[1991.41,-0.3],[1991.56,-0.31],[1991.63,-0.32],[1991.7,-0.3],[1991.85,-0.27],[1992,-0.26],[1992.07,-0.27],[1992.11,0],[1992.22,0],[1992.29,-0.03],[1992.44,-0.05],[1992.59,-0.05],[1992.73,-0.04],[1992.88,-0.05],[1993.03,-0.06],[1993.17,-0.06],[1993.32,-0.06],[1993.47,-0.08],[1993.61,-0.09],[1993.76,-0.15],[1993.91,-0.16],[1994.05,-0.17],[1994.2,-0.17],[1994.28,-0.2],[1994.35,-0.15],[1994.5,-0.13],[1994.64,-0.1],[1994.79,-0.06],[1994.94,-0.03],[1995.08,-0.01],[1995.23,-0.01],[1995.38,-0.01],[1995.52,-0.03],[1995.67,-0.06],[1995.82,-0.09],[1995.97,-0.13],[1996.11,-0.17],[1996.26,-0.19],[1996.41,-0.18],[1996.55,-0.19],[1996.7,-0.15],[1996.85,-0.13],[1996.99,-0.13],[1997.14,-0.14],[1997.29,-0.17],[1997.44,-0.2],[1997.58,-0.22],[1997.73,-0.24],[1997.8,-0.26],[1997.88,-0.22],[1998.02,-0.19],[1998.17,-0.15],[1998.32,-0.1],[1998.46,-0.06],[1998.61,-0.03],[1998.76,0.01],[1998.9,0.03],[1999.05,0.03],[1999.2,0.05],[1999.35,0.06],[1999.49,0.08],[1999.64,0.08],[1999.79,0.07],[1999.93,0.06],[2000.08,0.03],[2000.23,0.03],[2000.37,0.02],[2000.52,0.01],[2000.67,-0.01],[2000.81,-0.03],[2000.96,-0.1],[2001.04,-0.2],[2001.11,-0.24],[2001.26,-0.25],[2001.4,-0.26],[2001.55,-0.27],[2001.7,-0.24],[2001.84,-0.21],[2001.99,-0.15],[2002.14,-0.08],[2002.29,-0.04],[2002.43,-0.03],[2002.58,-0.03],[2002.73,-0.01],[2002.87,0],[2003.02,0.02],[2003.17,0.03],[2003.31,0.02],[2003.46,0.02],[2003.53,-0.08],[2003.61,-0.1],[2003.75,-0.11],[2003.9,-0.12],[2004.05,-0.13],[2004.2,-0.13],[2004.34,-0.11],[2004.49,-0.09],[2004.56,-0.01],[2004.64,0.01],[2004.78,0.03],[2004.93,0.03],[2005.08,0.05],[2005.22,0.06],[2005.37,0.03],[2005.52,-0.01],[2005.67,-0.04],[2005.81,-0.03],[2005.96,-0.01],[2006.11,0],[2006.25,0.02],[2006.4,0.03],[2006.55,0.07],[2006.69,0.1],[2006.84,0.11],[2006.99,0.13],[2007.14,0.17],[2007.28,0.19],[2007.43,0.23],[2007.58,0.24],[2007.72,0.2],[2007.87,0.16],[2008.02,0.15],[2008.16,0.17],[2008.31,0.14],[2008.46,0.13],[2008.61,0.11],[2008.75,0.16],[2008.83,0.25],[2008.9,0.26],[2009.05,0.26],[2009.19,0.3],[2009.27,0.37],[2009.34,0.44],[2009.49,0.48],[2009.56,0.52],[2009.63,0.51],[2009.71,0.5]];
var dZero = [1989.94, 2009.12];

// ---- axis ticks ----
var ticksX85 = [1985, 1987.5, 1990, 1992.5, 1995, 1997.5, 2000, 2002.5, 2005, 2007.5, 2010];
var labelsX85 = ['85', '87', '90', '92', '95', '97', '00', '02', '05', '07', '10'];
var ticksX88 = [1988, 1990, 1992, 1994, 1996, 1998, 2000, 2002, 2004, 2006, 2008, 2010];
var labelsX88 = ['88', '90', '92', '94', '96', '98', '00', '02', '04', '06', '08', '10'];
var ticksY1 = [-0.4, -0.2, 0, 0.2, 0.4, 0.6, 0.8, 1];
var ticksY06 = [-0.4, -0.2, 0, 0.2, 0.4, 0.6];

var titles = ['Panel A: Soybean-Oil Pair', 'Panel B: Cotton-Oil Pair', 'Panel C: Live Cattle-Oil Pair', 'Panel D: Copper-Oil Pair'];
var legendLabels = ['Coefficient \u03c1', '95% Confidence Level'];

var width = 1229, height = 963;

var svg = d3.select('#chart').append('svg')
  .attr('width', width)
  .attr('height', height)
  .style('display', 'block');

svg.append('rect').attr('width', width).attr('height', height).attr('fill', '#fff');

// plot boxes [left, top, right, bottom] and legend corner
var panels = [
  { title: titles[0], box: [83, 43, 583, 422], xDom: [1985, 2010], xTicks: ticksX85, xLabels: labelsX85,
    yDom: [-0.4, 1], yTicks: ticksY1, rho: aRho, up: aUpper, lo: aLower, zero: aZero, leg: [108, 60] },
  { title: titles[1], box: [710, 43, 1208, 422], xDom: [1985, 2010], xTicks: ticksX85, xLabels: labelsX85,
    yDom: [-0.4, 1], yTicks: ticksY1, rho: bRho, up: bUpper, lo: bLower, zero: bZero, leg: [743, 57] },
  { title: titles[2], box: [76, 532, 574, 912], xDom: [1985, 2010], xTicks: ticksX85, xLabels: labelsX85,
    yDom: [-0.4, 0.6], yTicks: ticksY06, rho: cRho, up: cUpper, lo: cLower, zero: cZero, leg: [92, 547] },
  { title: titles[3], box: [689, 532, 1188, 912], xDom: [1988, 2010], xTicks: ticksX88, xLabels: labelsX88,
    yDom: [-0.4, 1], yTicks: ticksY1, rho: dRho, up: dUpper, lo: dLower, zero: dZero, leg: [712, 549] }
];

function fmtY(d) {
  return String(+d.toFixed(1));
}

panels.forEach(function (p) {
  var x = d3.scaleLinear().domain(p.xDom).range([p.box[0], p.box[2]]);
  var y = d3.scaleLinear().domain(p.yDom).range([p.box[3], p.box[1]]);
  var g = svg.append('g');
  var line = d3.line().x(function (d) { return x(d[0]); }).y(function (d) { return y(d[1]); });

  // confidence bands (dotted blue)
  [p.up, p.lo].forEach(function (band) {
    g.append('path').datum(band)
      .attr('d', line)
      .attr('fill', 'none')
      .attr('stroke', '#0000ff')
      .attr('stroke-width', 1.2)
      .attr('stroke-dasharray', '1.2,3.2');
  });

  // coefficient (solid red)
  g.append('path').datum(p.rho)
    .attr('d', line)
    .attr('fill', 'none')
    .attr('stroke', '#ff0000')
    .attr('stroke-width', 2)
    .attr('stroke-linejoin', 'round');

  // zero reference line
  g.append('line')
    .attr('x1', x(p.zero[0])).attr('x2', x(p.zero[1]))
    .attr('y1', y(0)).attr('y2', y(0))
    .attr('stroke', '#000')
    .attr('stroke-width', 1.5);

  // axes, ticks pointing inward
  var ax = g.append('g').attr('transform', 'translate(0,' + p.box[3] + ')')
    .call(d3.axisBottom(x).tickValues(p.xTicks).tickFormat(function (d, i) { return p.xLabels[i]; })
      .tickSizeInner(-6).tickSizeOuter(0).tickPadding(8));
  g.append('g').attr('transform', 'translate(0,' + p.box[1] + ')')
    .call(d3.axisTop(x).tickValues(p.xTicks).tickFormat('').tickSizeInner(-6).tickSizeOuter(0));
  var ay = g.append('g').attr('transform', 'translate(' + p.box[0] + ',0)')
    .call(d3.axisLeft(y).tickValues(p.yTicks).tickFormat(fmtY).tickSizeInner(-6).tickSizeOuter(0).tickPadding(5));
  g.append('g').attr('transform', 'translate(' + p.box[2] + ',0)')
    .call(d3.axisRight(y).tickValues(p.yTicks).tickFormat('').tickSizeInner(-6).tickSizeOuter(0));

  g.selectAll('.domain').remove();
  g.selectAll('.tick line').attr('stroke', '#000').attr('stroke-width', 1);
  [ax, ay].forEach(function (a) {
    a.attr('font-family', null).attr('font-size', null);
    a.selectAll('text')
      .style('font-family', '"Liberation Serif", "Times New Roman", serif')
      .style('font-size', '21px')
      .style('font-weight', 'bold')
      .attr('fill', '#000');
  });

  // frame
  g.append('rect')
    .attr('x', p.box[0]).attr('y', p.box[1])
    .attr('width', p.box[2] - p.box[0]).attr('height', p.box[3] - p.box[1])
    .attr('fill', 'none').attr('stroke', '#000').attr('stroke-width', 1.5);

  var cx = (p.box[0] + p.box[2]) / 2;
  var cy = (p.box[1] + p.box[3]) / 2;

  // title
  g.append('text')
    .attr('x', cx).attr('y', p.box[1] - 18)
    .attr('text-anchor', 'middle')
    .style('font-size', '28px')
    .text(p.title);

  // axis labels
  g.append('text')
    .attr('x', cx).attr('y', p.box[3] + 45)
    .attr('text-anchor', 'middle')
    .style('font-size', '20px').style('font-weight', 'bold')
    .text('Time');
  g.append('text')
    .attr('transform', 'translate(' + (p.box[0] - 54) + ',' + cy + ') rotate(-90)')
    .attr('text-anchor', 'middle')
    .style('font-size', '20px').style('font-weight', 'bold')
    .text('Correlation');

  // legend
  var lg = g.append('g').attr('transform', 'translate(' + p.leg[0] + ',' + p.leg[1] + ')');
  lg.append('rect')
    .attr('width', 262).attr('height', 62)
    .attr('fill', '#fff').attr('stroke', '#000').attr('stroke-width', 2);
  lg.append('line').attr('x1', 9).attr('x2', 55).attr('y1', 17).attr('y2', 17)
    .attr('stroke', '#ff0000').attr('stroke-width', 2);
  lg.append('line').attr('x1', 9).attr('x2', 55).attr('y1', 45).attr('y2', 45)
    .attr('stroke', '#0000ff').attr('stroke-width', 1.2).attr('stroke-dasharray', '1.2,4');
  lg.selectAll('text.lab').data(legendLabels).enter().append('text')
    .attr('class', 'lab')
    .attr('x', 60)
    .attr('y', function (d, i) { return 25 + i * 28; })
    .style('font-size', '20px').style('font-weight', 'bold')
    .text(function (d) { return d; });
});
</script>
</body>
</html>
